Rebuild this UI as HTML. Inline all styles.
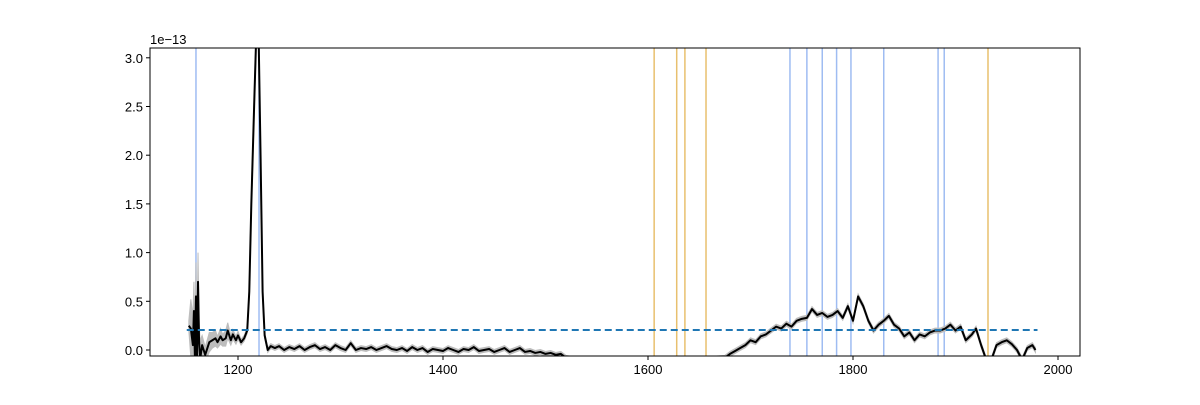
<!DOCTYPE html>
<html><head><meta charset="utf-8"><style>
body{margin:0;background:#fff;}
svg text{font-family:"Liberation Sans",sans-serif;font-size:13px;fill:#000;}
</style></head><body>
<svg id="chart" width="1200" height="400" xmlns="http://www.w3.org/2000/svg">
<defs><clipPath id="clip"><rect x="150" y="48" width="930" height="308"/></clipPath></defs>
<g id="plot" clip-path="url(#clip)"></g>
<rect x="150" y="48" width="930" height="308" fill="none" stroke="#000" stroke-width="1"/>
<g id="axes"></g>
<text x="150" y="44">1e−13</text>
</svg>
<script>
const waves=[1152,1154,1156,1157,1158,1159,1160,1161,1162,1163,1165,1168,1172,1175,1178,1180,1183,1185,1188,1190,1193,1195,1198,1200,1203,1206,1209,1211,1213,1216,1218,1220,1222,1224,1226,1229,1232,1236,1240,1245,1250,1255,1260,1265,1270,1275,1280,1285,1290,1295,1300,1305,1310,1315,1320,1325,1330,1335,1340,1345,1350,1355,1360,1365,1370,1375,1380,1385,1390,1395,1400,1405,1410,1415,1420,1425,1430,1435,1440,1445,1450,1455,1460,1465,1470,1475,1480,1485,1490,1495,1500,1505,1510,1515,1520,1530,1550,1560,1600,1650,1675,1680,1685,1690,1695,1700,1705,1710,1715,1720,1725,1730,1735,1740,1745,1750,1755,1760,1765,1770,1775,1780,1785,1790,1795,1800,1805,1810,1815,1820,1825,1830,1835,1840,1845,1850,1855,1860,1865,1870,1875,1880,1885,1890,1895,1900,1905,1910,1913,1916,1920,1925,1930,1935,1940,1945,1950,1955,1960,1965,1970,1975,1978];
const flux=[0.25,0.22,0.05,0.4,-0.1,0.55,-0.1,0.7,0.1,-0.1,0.05,-0.05,0.08,0.1,0.12,0.08,0.14,0.1,0.12,0.2,0.1,0.16,0.1,0.15,0.08,0.12,0.2,0.6,1.5,2.6,3.3,3.3,2.0,0.6,0.15,0.0,0.04,0.02,0.04,0.0,0.03,0.01,0.04,0.0,0.03,0.05,0.01,0.03,0.0,0.05,0.02,0.0,0.07,0.0,0.02,0.01,0.03,0.0,0.02,0.04,0.01,0.0,0.02,-0.01,0.03,0.0,0.02,-0.02,0.01,0.0,-0.01,0.02,0.0,-0.02,0.01,0.0,0.03,-0.01,0.0,0.01,-0.02,0.0,0.02,-0.02,0.0,0.02,-0.02,-0.01,-0.03,-0.02,-0.04,-0.03,-0.05,-0.04,-0.08,-0.1,-0.1,-0.1,-0.1,-0.1,-0.08,-0.04,-0.01,0.02,0.05,0.1,0.08,0.14,0.16,0.2,0.24,0.22,0.27,0.24,0.3,0.32,0.33,0.42,0.36,0.38,0.34,0.36,0.4,0.33,0.45,0.3,0.55,0.45,0.3,0.2,0.26,0.3,0.35,0.26,0.22,0.14,0.18,0.1,0.16,0.14,0.18,0.2,0.2,0.22,0.26,0.2,0.24,0.1,0.13,0.16,0.22,0.05,-0.1,-0.1,0.05,0.08,0.1,0.06,0.0,-0.1,0.02,0.05,0.0,0.08,-0.03,-0.05,-0.05];
const errs=[0.05,0.3,0.3,0.3,0.3,0.35,0.2,0.3,0.2,0.2,0.1,0.08,0.1,0.08,0.08,0.06,0.08,0.06,0.08,0.08,0.05,0.05,0.04,0.04,0.03,0.03,0.03,0.05,0.08,0.1,0.1,0.1,0.08,0.05,0.03];
const refBlue=[1159,1220.5,1738.5,1755,1770,1784,1798,1830,1883,1889];
const refOrange=[1606,1628,1636,1656.6,1931.7];
const threshold=0.205;
const xTicks=[1200,1400,1600,1800,2000];
const yTicks=[0,0.5,1.0,1.5,2.0,2.5,3.0];
const xs=v=>238+(v-1200)*1.025;
const ys=v=>350-v*97.4;
const NS="http://www.w3.org/2000/svg";
const plot=document.getElementById('plot'),axes=document.getElementById('axes');
function mk(t,a,p){const e=document.createElementNS(NS,t);for(const k in a)e.setAttribute(k,a[k]);p.appendChild(e);return e;}
refBlue.forEach(v=>{const l=mk('line',{x1:xs(v),x2:xs(v),y1:48,y2:356,stroke:'#9fbcf2','stroke-width':1.5},plot);

});
refOrange.forEach(v=>{const l=mk('line',{x1:xs(v),x2:xs(v),y1:48,y2:356,stroke:'#e8c06e','stroke-width':1.5},plot);

});
const err=i=>i<errs.length?errs[i]:0.025;
let up=waves.map((w,i)=>xs(w)+','+ys(flux[i]+err(i)));
let dn=waves.map((w,i)=>xs(w)+','+ys(flux[i]-err(i))).reverse();
const band=mk('polygon',{points:up.concat(dn).join(' '),fill:'#bdbdbd',stroke:'#bdbdbd','stroke-width':1},plot);


const line=mk('polyline',{points:waves.map((w,i)=>xs(w)+','+ys(flux[i])).join(' '),fill:'none',stroke:'#000','stroke-width':2,'stroke-linejoin':'round'},plot);


const th=mk('line',{x1:xs(1150),x2:xs(1980),y1:ys(threshold),y2:ys(threshold),stroke:'#1f77b4','stroke-width':2,'stroke-dasharray':'7,4'},plot);


xTicks.forEach(v=>{const x=xs(v);mk('line',{x1:x,x2:x,y1:356,y2:360,stroke:'#000'},axes);
const t=mk('text',{x:x,y:374,'text-anchor':'middle'},axes);t.textContent=v;

});
yTicks.forEach(v=>{const y=ys(v);mk('line',{x1:146,x2:150,y1:y,y2:y,stroke:'#000'},axes);
const t=mk('text',{x:143,y:y+5,'text-anchor':'end'},axes);t.textContent=v.toFixed(1);

});
</script>
</body></html>
